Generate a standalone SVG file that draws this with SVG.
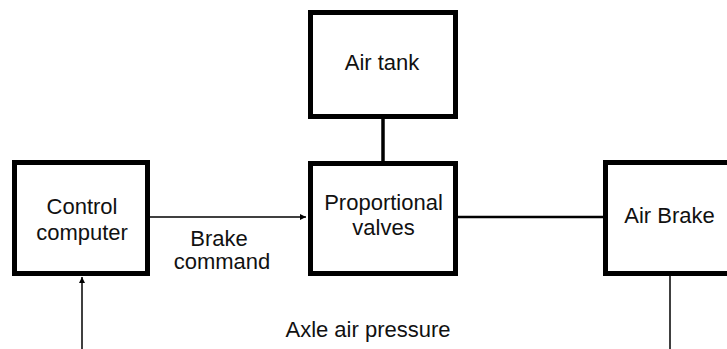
<svg xmlns="http://www.w3.org/2000/svg" width="727" height="349" viewBox="0 0 727 349">
<style>
.box{fill:#fff;stroke:#000;stroke-width:5}
.t{font-family:"Liberation Sans",Arial,sans-serif;font-size:22px;fill:#111;text-anchor:middle}
.thin{stroke:#000;stroke-width:1.5;fill:none}
</style>
<defs>
<marker id="ah" viewBox="0 0 10 10" refX="10" refY="5" markerWidth="6" markerHeight="6" markerUnits="userSpaceOnUse" orient="auto">
<path d="M0,0 L10,5 L0,10 z" fill="#000"/>
</marker>
</defs>
<rect width="727" height="349" fill="#fff"/>
<g id="connectors">
<line x1="383" y1="118" x2="383" y2="161" stroke="#000" stroke-width="3.5"/>
<line x1="458" y1="217" x2="603" y2="217" stroke="#000" stroke-width="2.5"/>
<line x1="670" y1="276" x2="670" y2="349" class="thin"/>
<line x1="150" y1="217" x2="306" y2="217" class="thin" marker-end="url(#ah)"/>
<line x1="82" y1="349" x2="82" y2="277" class="thin" marker-end="url(#ah)"/>
</g>
<g id="control-computer">
<rect class="box" x="14.5" y="162.5" width="133" height="111"/>
<text class="t" x="82" y="214">Control</text>
<text class="t" x="82" y="240">computer</text>
</g>
<g id="air-tank">
<rect class="box" x="310.5" y="12.5" width="145" height="104"/>
<text class="t" x="382" y="70">Air tank</text>
</g>
<g id="proportional-valves">
<rect class="box" x="310.5" y="163.5" width="145" height="110"/>
<text class="t" x="383.5" y="210">Proportional</text>
<text class="t" x="383.5" y="235">valves</text>
</g>
<g id="air-brake">
<rect class="box" x="605.5" y="162.5" width="140" height="111"/>
<text class="t" x="669.5" y="223">Air Brake</text>
</g>
<g id="labels">
<text class="t" x="219" y="246">Brake</text>
<text class="t" x="222" y="269">command</text>
<text class="t" x="368" y="337">Axle air pressure</text>
</g>
</svg>
